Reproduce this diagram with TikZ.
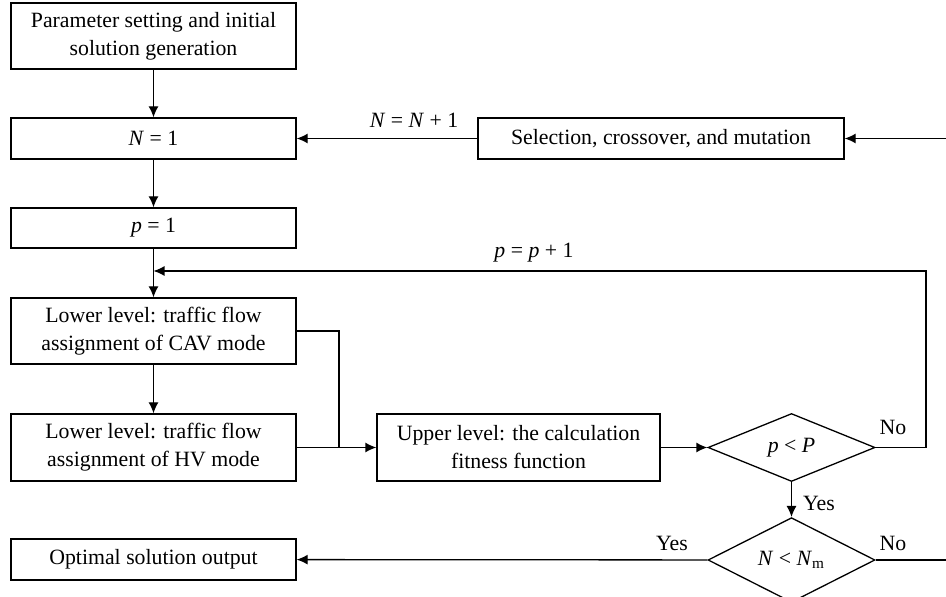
\documentclass[tikz,border=0pt]{standalone}
\usepackage{fontspec}
\setmainfont{Liberation Serif}
\usetikzlibrary{shapes.geometric,arrows.meta}

\begin{document}
\begin{tikzpicture} [x=0.5pt, y=-0.5pt, line width=0.65pt, >={Latex[length=5.5pt,width=5pt]},
	box/.style={draw, rectangle, inner sep=0pt, align=center, font=\fontsize{10.9}{14}\selectfont},
	dia/.style={draw, diamond, minimum width=83.5pt, minimum height=34pt, inner sep=0pt, font=\fontsize{10.9}{14}\selectfont},
	lbl/.style={font=\fontsize{10.9}{14}\selectfont}]
	\useasboundingbox (0,0) rectangle (946,597);
	\node[box, minimum width=142.5pt, minimum height=33pt] (init) at (153.5,36) {Parameter setting and initial\\solution generation};
	\node[box, minimum width=142.5pt, minimum height=20.5pt] (n1) at (153.5,138.5) {\textit{N} = 1};
	\node[box, minimum width=142.5pt, minimum height=20pt] (p1) at (153.5,228) {\textit{p} = 1};
	\node[box, minimum width=142.5pt, minimum height=33pt] (cav) at (153.5,331) {Lower level: traffic flow\\assignment of CAV mode};
	\node[box, minimum width=142.5pt, minimum height=33.5pt] (hv) at (153.5,447.5) {Lower level: traffic flow\\assignment of HV mode};
	\node[box, minimum width=142.5pt, minimum height=20.5pt] (opt) at (153.5,559.5) {Optimal solution output};
	\node[box, minimum width=141.5pt, minimum height=33.5pt] (upper) at (518.5,447.5) {Upper level: the calculation\\fitness function};
	\node[box, minimum width=183pt, minimum height=20.5pt] (sel) at (661,138.5) {Selection, crossover, and mutation};
	\node[dia] (pP) at (791.5,447.5) {\textit{p} < \textit{P}};
	\node[dia, minimum height=32.5pt] (nN) at (791.5,560) {\textit{N} < \textit{N}\textsubscript{m}};
	\coordinate (join) at (153.5,271);
	\coordinate (ploop) at (926,271);
	\coordinate (merge) at (339,447.5);
	\coordinate (in) at (946,138.5);
	\coordinate (out) at (946,560);
	\draw[->] (init) -- (n1);
	\draw[->] (n1) -- (p1);
	\draw[->] (p1) -- (cav);
	\draw[->] (cav) -- (hv);
	\draw (cav.east) -| (merge);
	\draw (hv.east) -- (merge);
	\draw[->] (merge) -- (upper);
	\draw[->] (upper) -- (pP);
	\draw[->] (pP.east) -| (ploop) -- (join);
	\draw[->] (pP) -- (nN);
	\draw[->] (nN) -- (opt);
	\draw (nN.east) -- (out);
	\draw[->] (in) -- (sel);
	\draw[->] (sel) -- (n1);
	\node[lbl] (nplus) at (414,120) {\textit{N} = \textit{N} + 1};
	\node[lbl] (pplus) at (534,253) {\textit{p} = \textit{p} + 1};
	\node[lbl] (no1) at (893,427) {No};
	\node[lbl] (no2) at (893,543) {No};
	\node[lbl] (yes1) at (819,503) {Yes};
	\node[lbl] (yes2) at (672,543) {Yes};
\end{tikzpicture}
\end{document}
